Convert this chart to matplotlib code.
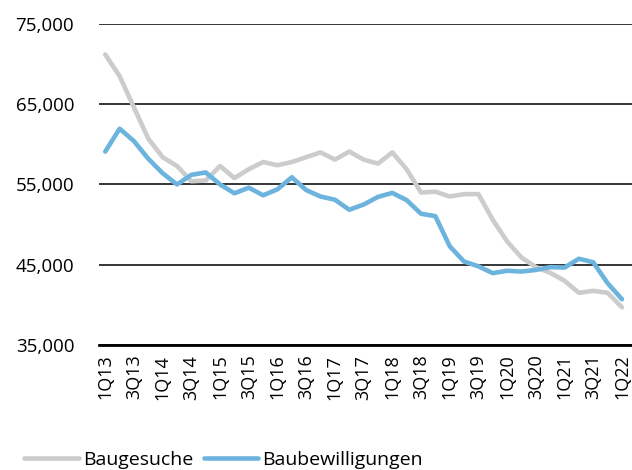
import matplotlib
matplotlib.use("Agg")
import matplotlib.pyplot as plt
from matplotlib.ticker import FuncFormatter

# quarterly data 1Q13 .. 1Q22
quarters = [f"{q}Q{y}" for y in range(13, 23) for q in range(1, 5)][:37]

baugesuche = [71200, 68500, 64600, 60700, 58400, 57300, 55400, 55500,
              57300, 55800, 56900, 57800, 57400, 57800, 58400, 59000,
              58100, 59100, 58100, 57600, 59000, 56900, 54000, 54100,
              53500, 53800, 53800, 50600, 47900, 45900, 44700, 44000,
              43000, 41500, 41750, 41500, 39700]

baubewilligungen = [59100, 61950, 60400, 58200, 56400, 55000, 56200, 56500,
                    55000, 53900, 54600, 53650, 54400, 55900, 54300, 53500,
                    53100, 51850, 52500, 53450, 53950, 53050, 51350, 51050,
                    47300, 45400, 44800, 43950, 44250, 44150, 44350, 44700,
                    44650, 45750, 45300, 42700, 40700]

yticks = [35000, 45000, 55000, 65000, 75000]

plt.rcParams['font.family'] = ['Open Sans', 'DejaVu Sans']

fig = plt.figure(figsize=(6.32, 4.70), dpi=100)
ax = fig.add_axes([0.157, 0.266, 0.843, 0.683])

x = list(range(len(quarters)))
ax.plot(x, baugesuche, color="#cccccc", lw=3.3, label="Baugesuche", solid_capstyle="round")
ax.plot(x, baubewilligungen, color="#6cb4de", lw=3.3, label="Baubewilligungen", solid_capstyle="round")

ax.set_ylim(35000, 75000)
ax.set_xlim(-0.42, 36.7)
ax.set_yticks(yticks)
ax.yaxis.set_major_formatter(FuncFormatter(lambda v, p: f"{int(v):,}"))
ax.grid(axis="y", color="black", lw=1.1)
ax.set_axisbelow(True)
for s in ["top", "right", "left"]:
    ax.spines[s].set_visible(False)
ax.spines["bottom"].set_linewidth(2)
ax.set_xticks(x[::2])
ax.set_xticklabels(quarters[::2], rotation=90, fontsize=13)
ax.tick_params(axis="x", length=0, pad=7)
ax.tick_params(axis="y", length=0, pad=18, labelsize=13.5)

ax.legend(loc="lower left", bbox_to_anchor=(-0.155, -0.41), ncol=2, frameon=False,
          fontsize=14, handlelength=2.8, handletextpad=0.2, columnspacing=0.55,
          borderaxespad=0)

fig.savefig("out.png", dpi=100)
